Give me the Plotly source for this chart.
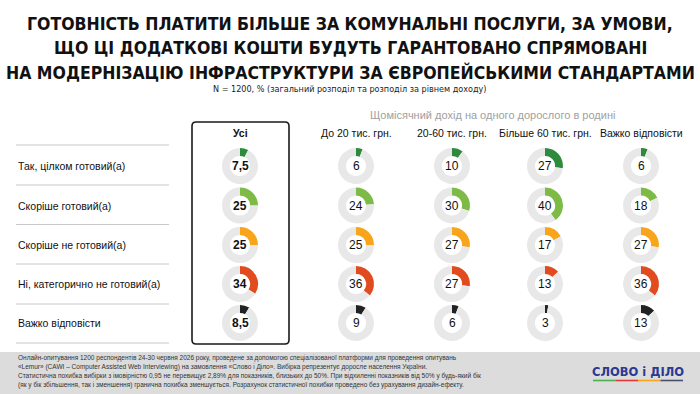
import plotly.graph_objects as go

W, H = 700, 394

title_lines = [
    "ГОТОВНІСТЬ ПЛАТИТИ БІЛЬШЕ ЗА КОМУНАЛЬНІ ПОСЛУГИ, ЗА УМОВИ,",
    "ЩО ЦІ ДОДАТКОВІ КОШТИ БУДУТЬ ГАРАНТОВАНО СПРЯМОВАНІ",
    "НА МОДЕРНІЗАЦІЮ ІНФРАСТРУКТУРИ ЗА ЄВРОПЕЙСЬКИМИ СТАНДАРТАМИ",
]
subtitle = "N = 1200, % (загальний розподіл та розподіл за рівнем доходу)"
group_title = "Щомісячний дохід на одного дорослого в родині"

categories = [
    "Так, цілком готовий(а)",
    "Скоріше готовий(а)",
    "Скоріше не готовий(а)",
    "Ні, категорично не готовий(а)",
    "Важко відповісти",
]
columns = ["Усі", "До 20 тис. грн.", "20-60 тис. грн.", "Більше 60 тис. грн.", "Важко відповісти"]

vals_all = [7.5, 25, 25, 34, 8.5]
vals_to20 = [6, 24, 25, 36, 9]
vals_20_60 = [10, 30, 27, 27, 6]
vals_60plus = [27, 40, 17, 13, 3]
vals_hard = [6, 18, 27, 36, 13]
series = [vals_all, vals_to20, vals_20_60, vals_60plus, vals_hard]

cat_colors = ["#2e8b3e", "#7dbb46", "#f9a51b", "#e04c1f", "#222222"]
ring_grey = "#e8e8e8"

footer_lines = [
    "Онлайн-опитування 1200 респондентів 24-30 червня 2026 року, проведене за допомогою спеціалізованої платформи для проведення опитувань",
    "«Lemur» (CAWI – Computer Assisted Web Interviewing) на замовлення «Слово і Діло». Вибірка репрезентує доросле населення України.",
    "Статистична похибка вибірки з імовірністю 0,95 не перевищує 2,89% для показників, близьких до 50%. При відхиленні показників від 50% у будь-який бік",
    "(як у бік збільшення, так і зменшення) гранична похибка зменшується. Розрахунок статистичної похибки проведено без урахування дизайн-ефекту.",
]
logo_text = "СЛОВО і ДІЛО"

# layout geometry (pixels)
col_x = [240, 356, 452, 545, 641]
row_y = [166, 205.5, 245, 284, 323]
R = 18
label_x = 16
sep_y = [145, 185, 224.5, 264, 304, 343]

def px(x):
    return x / W

def py(y):
    return 1 - y / H

FONT = "Liberation Sans, Arial, sans-serif"
NARROW = "DejaVu Sans Condensed, Liberation Sans Narrow, sans-serif"

fig = go.Figure()

for ci, vals in enumerate(series):
    for ri, v in enumerate(vals):
        cx, cy = col_x[ci], row_y[ri]
        fig.add_trace(go.Pie(
            values=[v, 100 - v],
            marker=dict(colors=[cat_colors[ri], ring_grey], line=dict(width=0)),
            hole=0.56,
            sort=False,
            direction="clockwise",
            rotation=0,
            textinfo="none",
            hoverinfo="skip",
            showlegend=False,
            domain=dict(x=[px(cx - R), px(cx + R)], y=[py(cy + R), py(cy - R)]),
        ))

annotations = []
shapes = []

# title
title_y = [24, 48, 72]
for t, y in zip(title_lines, title_y):
    annotations.append(dict(x=0.5, y=py(y), xref="paper", yref="paper", text="<b>" + t + "</b>",
                            showarrow=False, xanchor="center", yanchor="middle",
                            font=dict(family=NARROW, size=17.5, color="#111111")))
annotations.append(dict(x=0.5, y=py(89), xref="paper", yref="paper", text=subtitle,
                        showarrow=False, xanchor="center", yanchor="middle",
                        font=dict(family=NARROW, size=9, color="#222222")))

# group title
annotations.append(dict(x=px(492), y=py(115), xref="paper", yref="paper", text=group_title,
                        showarrow=False, xanchor="center", yanchor="middle",
                        font=dict(family=FONT, size=11, color="#a0a0a0")))

# column headers
for ci, c in enumerate(columns):
    txt = "<b>" + c + "</b>" if ci == 0 else c
    annotations.append(dict(x=px(col_x[ci]), y=py(133), xref="paper", yref="paper", text=txt,
                            showarrow=False, xanchor="center", yanchor="middle",
                            font=dict(family=FONT, size=10.5, color="#111111")))

# row labels
for ri, c in enumerate(categories):
    annotations.append(dict(x=px(label_x), y=py(row_y[ri]), xref="paper", yref="paper", text=c,
                            showarrow=False, xanchor="left", yanchor="middle",
                            font=dict(family=FONT, size=10.5, color="#111111")))

# donut center values
def fmt(v):
    s = ("%g" % v).replace(".", ",")
    return s

for ci, vals in enumerate(series):
    for ri, v in enumerate(vals):
        txt = "<b>" + fmt(v) + "</b>" if ci == 0 else fmt(v)
        annotations.append(dict(x=px(col_x[ci]), y=py(row_y[ri]), xref="paper", yref="paper", text=txt,
                                showarrow=False, xanchor="center", yanchor="middle",
                                font=dict(family=FONT, size=12, color="#111111")))

# separator lines
for y in sep_y:
    shapes.append(dict(type="line", xref="paper", yref="paper", x0=px(16), x1=px(169),
                       y0=py(y), y1=py(y), line=dict(color="#c8c8c8", width=1)))

# rounded box around "Усі"
bx0, bx1, by0, by1, rr = 192, 289, 122, 344, 4
path = (f"M {px(bx0+rr)},{py(by0)} L {px(bx1-rr)},{py(by0)} Q {px(bx1)},{py(by0)} {px(bx1)},{py(by0+rr)} "
        f"L {px(bx1)},{py(by1-rr)} Q {px(bx1)},{py(by1)} {px(bx1-rr)},{py(by1)} "
        f"L {px(bx0+rr)},{py(by1)} Q {px(bx0)},{py(by1)} {px(bx0)},{py(by1-rr)} "
        f"L {px(bx0)},{py(by0+rr)} Q {px(bx0)},{py(by0)} {px(bx0+rr)},{py(by0)} Z")
shapes.append(dict(type="path", xref="paper", yref="paper", path=path,
                   line=dict(color="#1a1a1a", width=1.6), fillcolor="rgba(0,0,0,0)"))

# footer band
shapes.append(dict(type="rect", xref="paper", yref="paper", x0=0, x1=1, y0=0, y1=py(352),
                   fillcolor="#dcdcdc", line=dict(width=0), layer="below"))
for i, t in enumerate(footer_lines):
    annotations.append(dict(x=px(16), y=py(357.5 + 9 * i), xref="paper", yref="paper", text=t,
                            showarrow=False, xanchor="left", yanchor="middle",
                            font=dict(family=FONT, size=6.5, color="#333333")))

# logo
annotations.append(dict(x=px(638), y=py(372), xref="paper", yref="paper", text="<b>" + logo_text + "</b>",
                        showarrow=False, xanchor="center", yanchor="middle",
                        font=dict(family="DejaVu Sans, sans-serif", size=11.5, color="#2b3990")))
logo_cols = ["#4caf50", "#e53935", "#f9a51b", "#4a4f6a"]
seg = (683 - 593) / 4
for i, c in enumerate(logo_cols):
    shapes.append(dict(type="line", xref="paper", yref="paper", x0=px(593 + i * seg), x1=px(593 + (i + 1) * seg),
                       y0=py(380.5), y1=py(380.5), line=dict(color=c, width=1.6)))

fig.update_layout(
    width=W, height=H,
    margin=dict(l=0, r=0, t=0, b=0),
    paper_bgcolor="white", plot_bgcolor="white",
    annotations=annotations, shapes=shapes,
)

fig.write_html("out.html")
